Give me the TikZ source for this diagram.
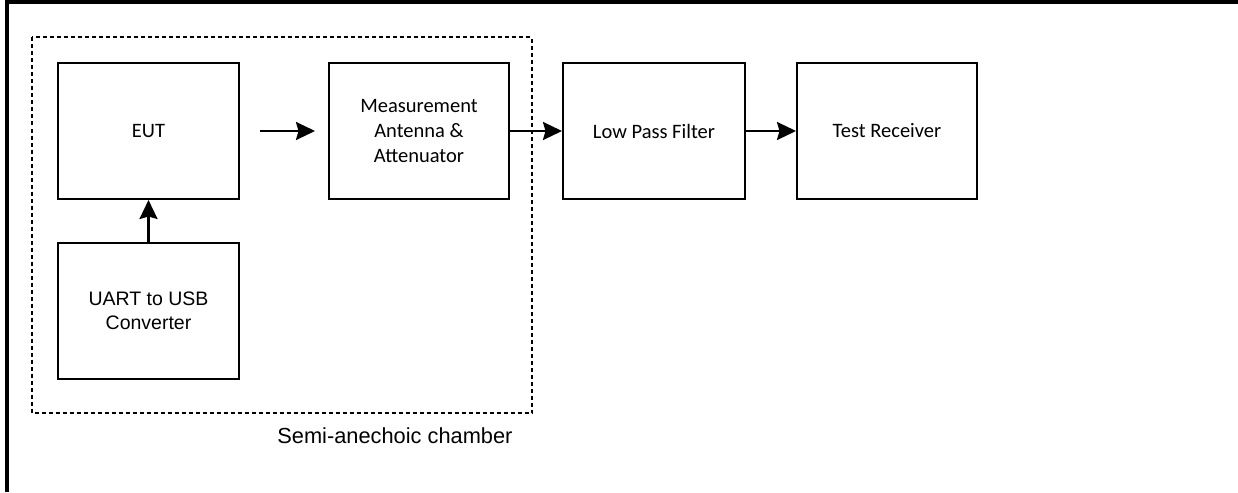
\documentclass[tikz,border=0pt]{standalone}
\usepackage{fontspec}
\setmainfont{Carlito}
\newfontfamily\arialfont{Liberation Sans}
\usetikzlibrary{arrows.meta}
\begin{document}
\begin{tikzpicture}[x=1pt,y=-1pt,
  blk/.style={draw,line width=2pt,minimum width=181pt,minimum height=136pt,
    align=center,font=\fontsize{20.5}{25}\selectfont,inner sep=0pt},
  ablk/.style={blk,font=\arialfont\fontsize{19.5}{24}\selectfont},
  conn/.style={line width=2.4pt,-{Stealth[length=19pt,width=18pt,inset=2.5pt]}},
  chamber/.style={draw,line width=2pt,dash pattern=on 4pt off 3pt}]
  \useasboundingbox (0,0) rectangle (1238,492);
  % outer frame, open at the right and at the bottom
  \draw[line width=4pt] (6.5,492) -- (6.5,2.5) -- (1238,2.5);
  % chamber outline
  \draw[chamber] (32,37.5) rectangle (532,413);
  \node[font=\arialfont\fontsize{21.8}{24}\selectfont,anchor=east] (chlabel) at (516,436) {Semi-anechoic chamber};
  % blocks
  \node[blk] (eut) at (148.5,131) {EUT};
  \node[blk,minimum width=180pt] (meas) at (419,131) {Measurement\\Antenna \&\\Attenuator};
  \node[blk,minimum width=182pt] (lpf) at (654,131) {Low Pass Filter};
  \node[blk,minimum width=180pt] (rx) at (887,131) {Test Receiver};
  \node[ablk] (uart) at (148.5,311) {UART to USB\\Converter};
  % connectors
  \coordinate (gapstart) at (260,131);
  \draw[conn] (gapstart) -- (meas.west -| 315,0);
  \draw[conn] (meas.east) -- (lpf.west);
  \draw[conn] (lpf.east) -- (rx.west);
  \draw[conn] (uart.north) -- (eut.south);
\end{tikzpicture}
\end{document}
